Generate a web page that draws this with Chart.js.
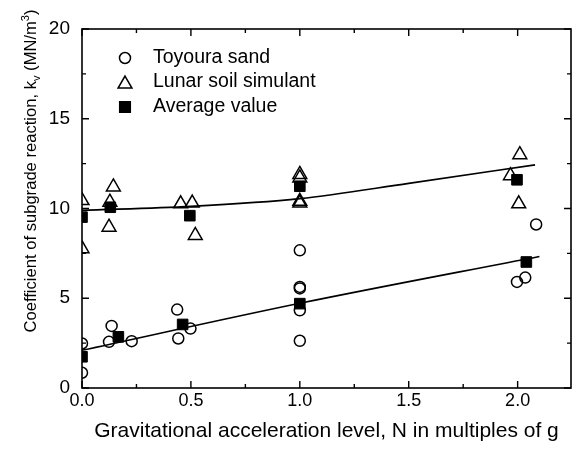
<!DOCTYPE html>
<html>
<head>
<meta charset="utf-8">
<script src="https://cdn.jsdelivr.net/npm/chart.js@4/dist/chart.umd.min.js"></script>
<style>
  html, body { margin: 0; padding: 0; background: #fff; }
</style>
</head>
<body>
<canvas id="kvChart" width="572" height="451"></canvas>
<script>
// data
const toyouraX = [0, 0, 0.124, 0.136, 0.228, 0.437, 0.442, 0.498, 1.0, 1.0, 1.0, 1.0, 1.0, 1.997, 2.035, 2.085];
const toyouraY = [2.48, 0.85, 2.57, 3.46, 2.61, 4.37, 2.76, 3.31, 7.67, 5.63, 5.55, 4.33, 2.63, 5.91, 6.15, 9.11];

const lunarX = [0, 0, 0.128, 0.144, 0.124, 0.453, 0.506, 0.52, 1.0, 1.0, 1.0, 1.0, 2.01, 1.967, 2.005];
const lunarY = [10.44, 7.76, 10.35, 11.2, 8.96, 10.26, 10.3, 8.5, 11.9, 11.7, 10.4, 10.3, 13.0, 11.83, 10.26];

const avgX = [0, 0.13, 0.495, 1.0, 1.997, 0, 0.167, 0.462, 1.0, 2.04];
const avgY = [9.52, 10.07, 9.6, 11.24, 11.6, 1.74, 2.85, 3.54, 4.7, 7.02];

const fitUpperX = [0, 0.5, 1.0, 1.5, 2.08];
const fitUpperY = [9.9, 10.12, 10.55, 11.4, 12.43];
const fitLowerX = [0, 1.0, 2.1];
const fitLowerY = [2.1, 4.72, 7.33];

const xTicks = [0, 0.5, 1.0, 1.5, 2.0];
const yTicks = [0, 5, 10, 15, 20];
const legendLabels = ['Toyoura sand', 'Lunar soil simulant', 'Average value'];
const xTitle = 'Gravitational acceleration level, N in multiples of g';

const FONT = '"Liberation Sans", Arial, sans-serif';
const pts = (xs, ys) => xs.map((x, i) => ({ x: x, y: ys[i] }));

const markerStyles = [
  { pointStyle: 'circle', radius: 5.5, fill: 'rgba(0,0,0,0)' },
  { pointStyle: 'triangle', radius: 8, fill: 'rgba(0,0,0,0)' },
  { pointStyle: 'rect', radius: 7.5, fill: '#000' }
];

const framePlugin = {
  id: 'frame',
  afterDraw(chart) {
    const ctx = chart.ctx;
    const a = chart.chartArea;
    const xs = chart.scales.x, ys = chart.scales.y;
    ctx.save();
    ctx.strokeStyle = '#000';
    ctx.lineWidth = 1.6;
    ctx.strokeRect(a.left, a.top, a.right - a.left, a.bottom - a.top);
    ctx.lineWidth = 1.4;
    const major = 7, minor = 4;
    const xs2 = [];
    xTicks.forEach((v, i) => {
      xs2.push([v, major]);
      if (i < xTicks.length - 1) xs2.push([(v + xTicks[i + 1]) / 2, minor]);
    });
    xs2.forEach(([v, len]) => {
      const px = xs.getPixelForValue(v);
      ctx.beginPath();
      ctx.moveTo(px, a.bottom); ctx.lineTo(px, a.bottom - len);
      ctx.moveTo(px, a.top); ctx.lineTo(px, a.top + len);
      ctx.stroke();
    });
    const ys2 = [];
    yTicks.forEach((v, i) => {
      ys2.push([v, major]);
      if (i < yTicks.length - 1) ys2.push([(v + yTicks[i + 1]) / 2, minor]);
    });
    ys2.forEach(([v, len]) => {
      const py = ys.getPixelForValue(v);
      ctx.beginPath();
      ctx.moveTo(a.left, py); ctx.lineTo(a.left + len, py);
      ctx.moveTo(a.right, py); ctx.lineTo(a.right - len, py);
      ctx.stroke();
    });

    // legend inside the plot
    const lx = 125, tx = 153, rows = [58, 82, 107];
    ctx.font = '19.5px ' + FONT;
    ctx.textBaseline = 'middle';
    ctx.textAlign = 'left';
    rows.forEach((y, i) => {
      const m = markerStyles[i];
      ctx.lineWidth = 1.5;
      ctx.fillStyle = m.fill;
      Chart.helpers.drawPoint(ctx, { pointStyle: m.pointStyle, radius: m.radius, borderWidth: 1.5 }, lx, y + (m.pointStyle === 'triangle' ? 2 : 0));
      ctx.fillStyle = '#000';
      ctx.fillText(legendLabels[i], tx, y);
    });

    // y axis title with subscript / superscript
    ctx.translate(36, 171);
    ctx.rotate(-Math.PI / 2);
    ctx.textBaseline = 'alphabetic';
    const parts = [
      ['Coefficient of subgrade reaction, k', 16.6, 0],
      ['v', 11, 4],
      [' (MN/m', 16.6, 0],
      ['3', 11, -7],
      [')', 16.6, 0]
    ];
    let total = 0;
    parts.forEach(p => { ctx.font = p[1] + 'px ' + FONT; total += ctx.measureText(p[0]).width; });
    let x = -total / 2;
    parts.forEach(p => {
      ctx.font = p[1] + 'px ' + FONT;
      ctx.fillText(p[0], x, p[2]);
      x += ctx.measureText(p[0]).width;
    });
    ctx.restore();
  }
};

new Chart(document.getElementById('kvChart'), {
  type: 'scatter',
  data: {
    datasets: [
      {
        label: legendLabels[0],
        data: pts(toyouraX, toyouraY),
        pointStyle: 'circle', pointRadius: 5.5,
        pointBackgroundColor: 'rgba(0,0,0,0)', pointBorderColor: '#000', pointBorderWidth: 1.5,
        order: 4
      },
      {
        label: legendLabels[1],
        data: pts(lunarX, lunarY),
        pointStyle: 'triangle', pointRadius: 8,
        pointBackgroundColor: 'rgba(0,0,0,0)', pointBorderColor: '#000', pointBorderWidth: 1.5,
        order: 3
      },
      {
        label: legendLabels[2],
        data: pts(avgX, avgY),
        pointStyle: 'rect', pointRadius: 7.5,
        pointBackgroundColor: '#000', pointBorderColor: '#000', pointBorderWidth: 1,
        order: 2
      },
      {
        label: 'fit upper',
        data: pts(fitUpperX, fitUpperY),
        showLine: true, pointRadius: 0, borderColor: '#000', borderWidth: 1.6,
        cubicInterpolationMode: 'monotone',
        order: 1
      },
      {
        label: 'fit lower',
        data: pts(fitLowerX, fitLowerY),
        showLine: true, pointRadius: 0, borderColor: '#000', borderWidth: 1.6,
        cubicInterpolationMode: 'monotone',
        order: 1
      }
    ]
  },
  options: {
    responsive: false,
    animation: false,
    layout: { autoPadding: false, padding: { top: 29, right: 1, left: 0, bottom: 0 } },
    plugins: { legend: { display: false }, tooltip: { enabled: false } },
    scales: {
      x: {
        type: 'linear', min: 0, max: 2.245,
        grid: { display: false }, border: { display: false },
        afterBuildTicks: s => { s.ticks = xTicks.map(v => ({ value: v })); },
        afterFit: s => { s.height = 63; s.paddingLeft = 0; s.paddingRight = 0; },
        ticks: {
          padding: -6, color: '#000', font: { family: FONT, size: 18 },
          maxRotation: 0, callback: v => Number(v).toFixed(1)
        },
        title: {
          display: true, text: xTitle, color: '#000',
          font: { family: FONT, size: 21 }, padding: { top: 0, bottom: 7 }
        }
      },
      y: {
        type: 'linear', min: 0, max: 20,
        grid: { display: false }, border: { display: false },
        afterBuildTicks: s => { s.ticks = yTicks.map(v => ({ value: v })); },
        afterFit: s => { s.width = 82; s.paddingTop = 0; s.paddingBottom = 0; },
        ticks: { padding: 4, color: '#000', font: { family: FONT, size: 19 } }
      }
    }
  },
  plugins: [framePlugin]
});
</script>
</body>
</html>
